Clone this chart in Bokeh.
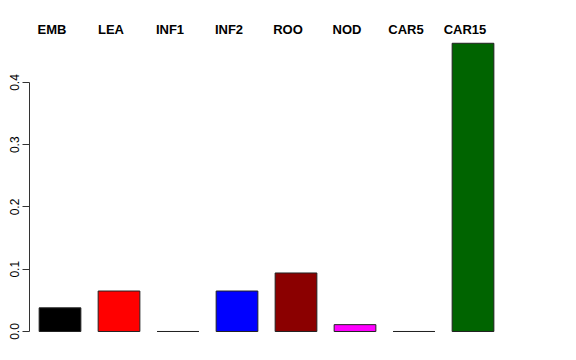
from bokeh.plotting import figure
from bokeh.models import ColumnDataSource, Range1d, FixedTicker
from bokeh.core.properties import value
from bokeh.embed import file_html
from bokeh.resources import INLINE

categories = ["EMB", "LEA", "INF1", "INF2", "ROO", "NOD", "CAR5", "CAR15"]
values = [0.038, 0.065, 0.0, 0.065, 0.094, 0.011, 0.0, 0.463]
colors = ["#000000", "#FF0000", "#00CD00", "#0000FF", "#8B0000", "#FF00FF", "#FFFF00", "#006400"]
y_ticks = [0.0, 0.1, 0.2, 0.3, 0.4]

xpos = list(range(1, len(categories) + 1))
src = ColumnDataSource(dict(x=xpos, top=values, color=colors, label=categories,
                            ly=[0.485] * len(categories)))

p = figure(width=576, height=360, output_backend="svg", toolbar_location=None,
           x_range=Range1d(0.483, 9.754), y_range=Range1d(-0.0466, 0.5317),
           min_border_left=29, min_border_right=0, min_border_top=0, min_border_bottom=0)
p.xaxis.visible = False
p.xgrid.visible = False
p.ygrid.visible = False
p.outline_line_color = None

p.vbar(x="x", top="top", bottom=0, width=0.707, fill_color="color",
       line_color="#222222", line_width=1, source=src)

p.text(x="x", y="ly", text="label", source=src, text_align="center", text_baseline="middle",
       x_offset=-8, text_font=value("Liberation Sans"), text_font_style="bold",
       text_font_size="13px", text_color="black")

ax = p.yaxis[0]
ax.ticker = FixedTicker(ticks=y_ticks)
ax.bounds = (0, 0.4)
ax.major_tick_out = 7
ax.major_tick_in = 0
ax.minor_tick_out = 0
ax.minor_tick_in = 0
ax.major_label_orientation = "vertical"
ax.major_label_text_font = "Liberation Sans"
ax.major_label_text_font_size = "12px"
ax.major_label_text_color = "black"
ax.major_label_standoff = 3
ax.axis_line_color = "#333333"
ax.major_tick_line_color = "#333333"
ax.major_label_overrides = {0.0: "0.0", 0.1: "0.1", 0.2: "0.2", 0.3: "0.3", 0.4: "0.4"}

open("out.html", "w").write(file_html(p, INLINE))
